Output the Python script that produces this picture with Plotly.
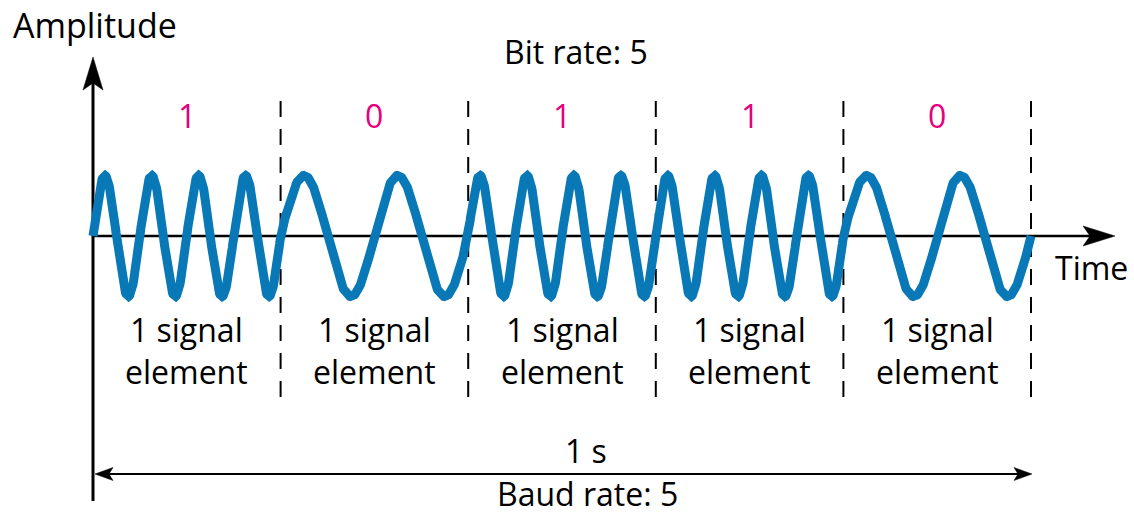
import numpy as np
import plotly.graph_objects as go

# ---------------- data ----------------
bits = [1, 0, 1, 1, 0]
bit_labels = ["1", "0", "1", "1", "0"]
cycles_per_bit = {1: 4, 0: 2}      # FSK: carrier cycles in each signal element
bit_duration = 0.2                 # seconds (5 bits in 1 s)
amplitude = 1.0
element_label = "1 signal<br>element"
title_top = "Bit rate: 5"
title_bottom = "Baud rate: 5"
duration_label = "1 s"
y_label = "Amplitude"
x_label = "Time"

# ---------------- geometry (page pixels) ----------------
W, H = 1134, 517
X0_PX, PX_PER_S = 93.0, 938.0        # t=0 at pixel 93, 1 s = 938 px
Y0_PX, PX_PER_AMP = 236.0, 60.5      # amplitude 0 at pixel 236

def tx(px):   # pixel x -> data x
    return (px - X0_PX) / PX_PER_S

def ty(py):   # pixel y -> data y
    return (Y0_PX - py) / PX_PER_AMP

BLUE = "#0878B6"
MAGENTA = "#E6007E"
FONT = "Open Sans"

# ---------------- signal ----------------
t_all, y_all = [], []
for i, b in enumerate(bits):
    t = np.linspace(i * bit_duration, (i + 1) * bit_duration, 400)
    f = cycles_per_bit[b] / bit_duration
    y = amplitude * np.sin(2 * np.pi * f * (t - i * bit_duration))
    t_all.append(t)
    y_all.append(y)
t_all = np.concatenate(t_all)
y_all = np.concatenate(y_all)

fig = go.Figure()
fig.add_trace(go.Scatter(x=t_all, y=y_all, mode="lines",
                         line=dict(color=BLUE, width=9), hoverinfo="skip",
                         showlegend=False))

n = len(bits)
t_end = n * bit_duration
shapes = []
# horizontal (time) axis
shapes.append(dict(type="line", xref="x", yref="y", x0=0, x1=tx(1092), y0=0, y1=0,
                   line=dict(color="black", width=2.5), layer="below"))
# vertical (amplitude) axis
shapes.append(dict(type="line", xref="x", yref="y", x0=0, x1=0, y0=ty(501), y1=ty(80),
                   line=dict(color="black", width=3), layer="below"))
# dashed separators between signal elements
for i in range(1, n + 1):
    shapes.append(dict(type="line", xref="x", yref="y", x0=i * bit_duration, x1=i * bit_duration,
                       y0=ty(101), y1=ty(400),
                       line=dict(color="black", width=2, dash="16px,12px"), layer="below"))
# duration double arrow line
yb = ty(474)
shapes.append(dict(type="line", xref="x", yref="y", x0=tx(100), x1=t_end - 7 / PX_PER_S,
                   y0=yb, y1=yb, line=dict(color="black", width=2)))

def head(xa, ya, path):
    return dict(type="path", xref="x", yref="y", xsizemode="pixel", ysizemode="pixel",
                xanchor=xa, yanchor=ya, path=path,
                fillcolor="black", line=dict(color="black", width=0.5))

# arrowheads
shapes.append(head(0, ty(57), "M0,0 L10,-33 L0,-26 L-10,-33 Z"))                       # up
shapes.append(head(tx(1115), 0, "M0,0 L-32,10 L-25,0 L-32,-10 Z"))                      # right (time)
shapes.append(head(t_end + 1 / PX_PER_S, yb, "M0,0 L-18,6.5 L-14,0 L-18,-6.5 Z"))       # right small
shapes.append(head(tx(95), yb, "M0,0 L18,6.5 L14,0 L18,-6.5 Z"))                        # left small

annotations = []
def txt(text, px, py, size=32, color="black", yanchor="middle"):
    annotations.append(dict(text=text, xref="paper", yref="paper",
                            x=px / W, y=1 - py / H,
                            xanchor="center", yanchor=yanchor,
                            showarrow=False, font=dict(family=FONT, size=size, color=color)))

for i, lab in enumerate(bit_labels):
    cx = X0_PX + (i + 0.5) * bit_duration * PX_PER_S
    txt(lab, cx, 115.5, color=MAGENTA)
    txt(element_label, cx, 350)

txt(y_label, 94.5, 24.5, size=34)
txt(title_top, 576, 51.5)
txt(x_label, 1091, 267.5)
txt(duration_label, 586, 450.5)
txt(title_bottom, 587.5, H, yanchor="bottom")

fig.update_layout(
    width=W, height=H, margin=dict(l=0, r=0, t=0, b=0),
    paper_bgcolor="white", plot_bgcolor="white",
    xaxis=dict(range=[tx(0), tx(W)], visible=False, fixedrange=True),
    yaxis=dict(range=[ty(H), ty(0)], visible=False, fixedrange=True),
    shapes=shapes, annotations=annotations, showlegend=False,
)
fig.write_html("out.html", config={"displayModeBar": False},
               post_script="document.body.style.margin='0';document.body.style.overflow='hidden';")
